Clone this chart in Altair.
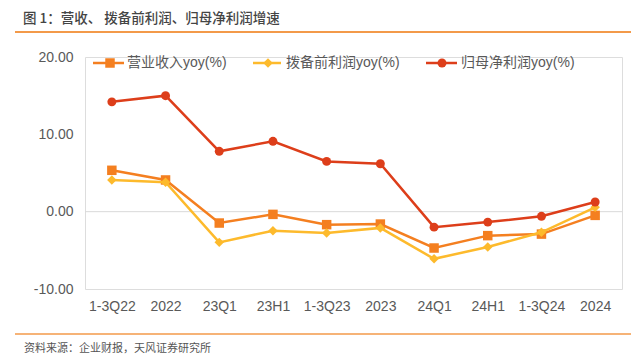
import altair as alt
import pandas as pd

categories = ["1-3Q22", "2022", "23Q1", "23H1", "1-3Q23", "2023", "24Q1", "24H1", "1-3Q24", "2024"]
series_names = ["营业收入yoy(%)", "拨备前利润yoy(%)", "归母净利润yoy(%)"]
revenue_yoy = [5.35, 4.1, -1.47, -0.35, -1.68, -1.6, -4.7, -3.1, -2.9, -0.48]
ppop_yoy = [4.1, 3.8, -3.97, -2.46, -2.76, -2.1, -6.1, -4.57, -2.67, 0.56]
netprofit_yoy = [14.2, 15.0, 7.8, 9.1, 6.5, 6.2, -2.0, -1.35, -0.6, 1.25]
y_ticks = [-10, 0, 10, 20]

title_text = "图 1：营收、 拨备前利润、归母净利润增速"
source_text = "资料来源：企业财报，天风证券研究所"

colors = ["#F47F20", "#FDBA2C", "#DD3E1A"]
shapes = ["square", "diamond", "circle"]
sizes = [90, 90, 80]

FONT = "Liberation Sans, Noto Sans CJK SC"
CJK = "Noto Sans CJK SC"
GREY = "#595959"

all_values = [revenue_yoy, ppop_yoy, netprofit_yoy]

x_enc = alt.X("cat:N", sort=categories,
              scale=alt.Scale(type="point", padding=0.5, domain=categories),
              axis=alt.Axis(title=None, labelAngle=0, domain=False, ticks=False,
                            labelPadding=10, labelFontSize=14, labelColor=GREY,
                            labelFont=FONT, grid=False))
y_enc = alt.Y("val:Q", scale=alt.Scale(domain=[-10, 20], nice=False, zero=False),
              axis=alt.Axis(title=None, values=y_ticks, grid=False, domain=False, ticks=False,
                            labelPadding=12, labelFontSize=14, labelColor=GREY, labelFont=FONT,
                            labelExpr="replace(format(datum.value, '.2f'), '\u2212', '-')"))

layers = []
# zero gridline
layers.append(alt.Chart(pd.DataFrame({"v": [0]})).mark_rule(color="#d9d9d9", strokeWidth=1)
              .encode(y=alt.Y("v:Q", scale=alt.Scale(domain=[-10, 20], nice=False, zero=False))))

for name, vals, c, s, sz in zip(series_names, all_values, colors, shapes, sizes):
    df = pd.DataFrame({"cat": categories, "val": vals, "series": name})
    base = alt.Chart(df)
    layers.append(base.mark_line(color=c, strokeWidth=2.5).encode(x=x_enc, y=y_enc))
    layers.append(base.mark_point(color=c, fill=c, filled=True, opacity=1, shape=s, size=sz)
                  .encode(x=x_enc, y=y_enc))

# manual legend
leg_y = 6
leg_specs = [(8, 39, 25, 42), (168, 196, 183, 201), (341, 372, 357, 376)]
for name, c, s, sz, (x1, x2, xm, xt) in zip(series_names, colors, shapes, sizes, leg_specs):
    d = pd.DataFrame({"t": [name]})
    layers.append(alt.Chart(d).mark_rule(color=c, strokeWidth=2.5)
                  .encode(x=alt.value(x1), x2=alt.value(x2), y=alt.value(leg_y)))
    layers.append(alt.Chart(d).mark_point(color=c, fill=c, filled=True, opacity=1, shape=s, size=sz)
                  .encode(x=alt.value(xm), y=alt.value(leg_y)))
    layers.append(alt.Chart(d).mark_text(align="left", baseline="middle", font=FONT, fontSize=14, color=GREY)
                  .encode(x=alt.value(xt), y=alt.value(leg_y), text="t:N"))

# title + footer
layers.append(alt.Chart(pd.DataFrame({"t": [title_text]}))
              .mark_text(align="left", baseline="middle", font=CJK, fontSize=13.5, fontWeight=500, color="#444444")
              .encode(x=alt.value(-62), y=alt.value(-38), text="t:N"))
layers.append(alt.Chart(pd.DataFrame({"t": [title_text]})).mark_rule(color="#F39A4A", strokeWidth=2)
              .encode(x=alt.value(-70), x2=alt.value(546), y=alt.value(-25)))
layers.append(alt.Chart(pd.DataFrame({"t": [source_text]})).mark_rule(color="#F39A4A", strokeWidth=1.5)
              .encode(x=alt.value(-70), x2=alt.value(546), y=alt.value(277)))
layers.append(alt.Chart(pd.DataFrame({"t": [source_text]}))
              .mark_text(align="left", baseline="middle", font=CJK, fontSize=11, color="#555555")
              .encode(x=alt.value(-61), y=alt.value(292), text="t:N"))

chart = alt.layer(*layers).properties(
    width=537, height=232,
    padding={"left": 77, "top": 49, "right": 13, "bottom": 70},
    autosize=alt.AutoSizeParams(type="none"),
).configure_view(stroke=None).configure(background="white")

chart.save("out.html", embed_options={"renderer": "svg", "actions": False})
